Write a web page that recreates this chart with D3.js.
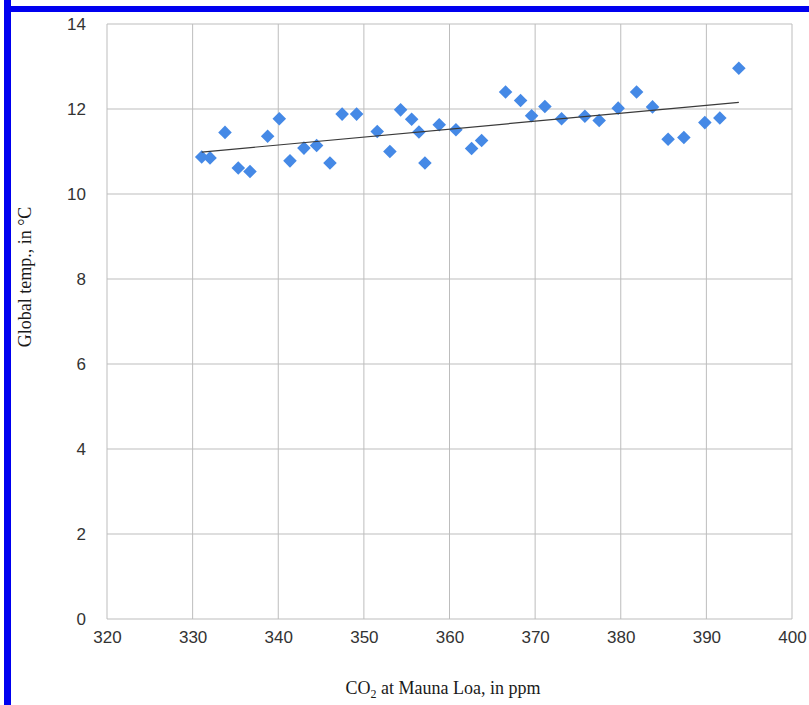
<!DOCTYPE html>
<meta charset="utf-8">
<head>
    <script src="https://d3js.org/d3.v7.min.js"></script>
    <style>
    body { margin: 0; background: white; }
    .tick text { font-family: "Liberation Sans", Arial, sans-serif; font-size: 17px; fill: #333; }
    .label { font-family: "Liberation Serif", "Times New Roman", serif; font-size: 18px; fill: #1a1a1a; }
    </style>
</head>
<body>
<svg id="chart"></svg>
<script>

// CO2 at Mauna Loa (ppm)
var co2 = [331.06, 332.03, 333.78, 335.33, 336.70, 338.76, 340.12, 341.37, 343.0, 344.48,
           346.04, 347.46, 349.15, 351.56, 353.04, 354.29, 355.58, 356.43, 357.13, 358.80,
           360.75, 362.58, 363.75, 366.55, 368.30, 369.59, 371.14, 373.09, 375.81, 377.48,
           379.70, 381.85, 383.71, 385.53, 387.37, 389.82, 391.57, 393.79];
// global temperature (°C)
var temp = [10.87, 10.85, 11.45, 10.61, 10.53, 11.36, 11.77, 10.78, 11.08, 11.14,
            10.73, 11.88, 11.88, 11.47, 11.00, 11.98, 11.76, 11.46, 10.73, 11.63,
            11.51, 11.07, 11.26, 12.40, 12.20, 11.84, 12.06, 11.77, 11.83, 11.73,
            12.02, 12.40, 12.05, 11.29, 11.33, 11.68, 11.79, 12.96];

var xTicks = [320, 330, 340, 350, 360, 370, 380, 390, 400];
var yTicks = [0, 2, 4, 6, 8, 10, 12, 14];

var W = 809, H = 705;
var margin = {top: 24, right: 17, bottom: 86, left: 107};
var width = W - margin.left - margin.right,
    height = H - margin.top - margin.bottom;

var svg = d3.select("#chart").attr("width", W).attr("height", H);

// blue frame on the left and top
svg.append("rect").attr("x", 4).attr("y", 0).attr("width", 7).attr("height", H).attr("fill", "#0000f0");
svg.append("rect").attr("x", 4).attr("y", 6).attr("width", W).attr("height", 6).attr("fill", "#0000f0");

var g = svg.append("g").attr("transform", "translate(" + margin.left + "," + margin.top + ")");

var x = d3.scaleLinear().domain([320, 400]).range([0, width]);
var y = d3.scaleLinear().domain([0, 14]).range([height, 0]);

// grid lines
g.append("g").selectAll("line").data(xTicks).join("line")
    .attr("x1", d => x(d)).attr("x2", d => x(d))
    .attr("y1", 0).attr("y2", height)
    .attr("stroke", "#bdbdbd").attr("stroke-width", 1);
g.append("g").selectAll("line").data(yTicks).join("line")
    .attr("x1", 0).attr("x2", width)
    .attr("y1", d => y(d)).attr("y2", d => y(d))
    .attr("stroke", "#bdbdbd").attr("stroke-width", 1);

// axes (labels only)
var xAxis = g.append("g").attr("transform", "translate(0," + height + ")")
    .call(d3.axisBottom(x).tickValues(xTicks).tickSize(0).tickPadding(12));
var yAxis = g.append("g")
    .call(d3.axisLeft(y).tickValues(yTicks).tickSize(0).tickPadding(21));
xAxis.select(".domain").remove();
yAxis.select(".domain").remove();

// trend line (least squares)
var mx = d3.mean(co2), my = d3.mean(temp);
var slope = d3.sum(co2, (d, i) => (d - mx) * (temp[i] - my)) / d3.sum(co2, d => (d - mx) * (d - mx));
var icpt = my - slope * mx;
var x0 = d3.min(co2), x1 = d3.max(co2);

// points
var pts = co2.map((d, i) => ({c: d, t: temp[i]}));
g.append("g").selectAll("path").data(pts).join("path")
    .attr("d", d3.symbol().type(d3.symbolSquare).size(92))
    .attr("transform", d => "translate(" + x(d.c) + "," + y(d.t) + ") rotate(45)")
    .attr("fill", "#4589e6");

g.append("line")
    .attr("x1", x(x0)).attr("y1", y(icpt + slope * x0))
    .attr("x2", x(x1)).attr("y2", y(icpt + slope * x1))
    .attr("stroke", "#3a3a3a").attr("stroke-width", 1.2);

// axis titles
svg.append("text").attr("class", "label")
    .attr("transform", "translate(31,277) rotate(-90)")
    .attr("text-anchor", "middle")
    .text("Global temp., in °C");

var xl = svg.append("text").attr("class", "label")
    .attr("x", 443).attr("y", 694)
    .attr("text-anchor", "middle");
xl.append("tspan").text("CO");
xl.append("tspan").attr("font-size", "12px").attr("dy", 4).text("2");
xl.append("tspan").attr("dy", -4).text(" at Mauna Loa, in ppm");

</script>
</body>
